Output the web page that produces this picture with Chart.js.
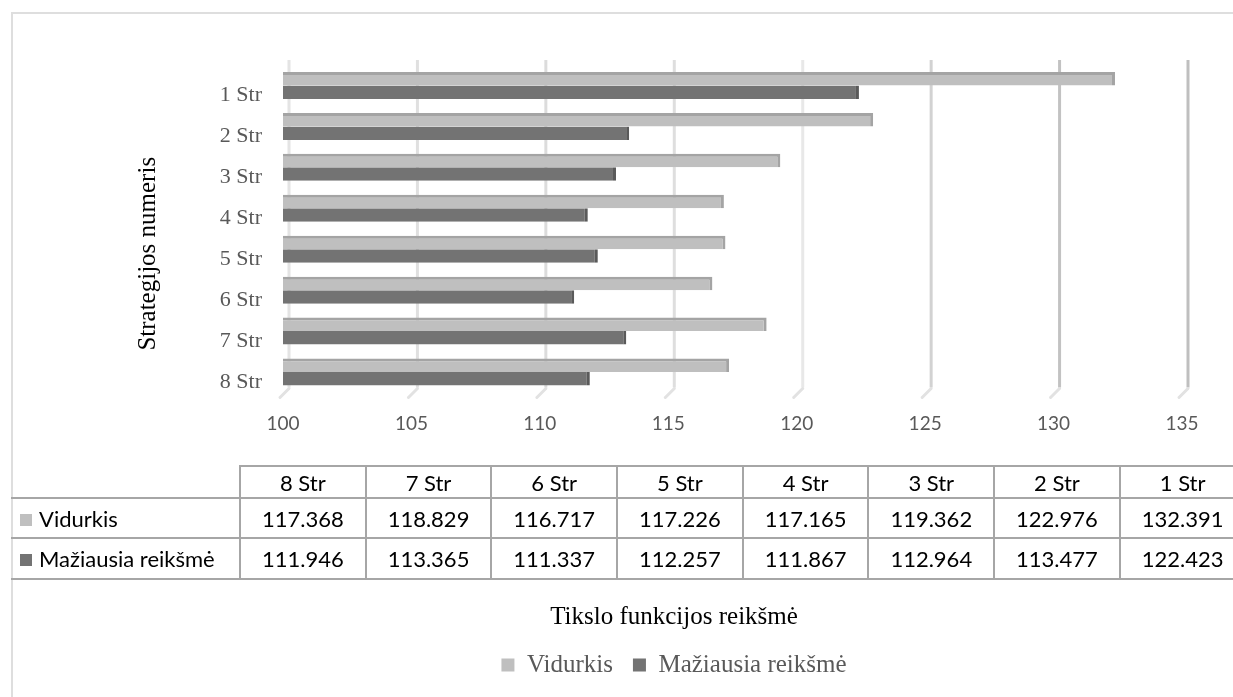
<!DOCTYPE html>
<html>
<head>
<meta charset="utf-8">
<script src="https://cdn.jsdelivr.net/npm/chart.js@4/dist/chart.umd.min.js"></script>
<style>
  html, body { margin: 0; padding: 0; background: #fff; overflow: hidden; }
  #wrap { position: relative; width: 1233px; height: 697px; overflow: hidden; background: #fff; }
  #frame { position: absolute; left: 11px; top: 12px; width: 1400px; height: 900px;
           border-left: 2px solid #dedede; border-top: 2px solid #dedede; }
  #chart { position: absolute; left: 0; top: 0; }
  #dt { position: absolute; left: 11px; top: 465px; border-collapse: collapse; table-layout: fixed;
        width: 1234px; font-family: Lato, "Open Sans", sans-serif; font-size: 22px; color: #000; }
  #dt td { border: 2px solid #a6a6a6; padding: 0; text-align: center; vertical-align: middle;
           white-space: nowrap; overflow: hidden; }
  #dt td.corner { border-top: none; border-left: none; }
  #dt td.lab { border-left: none; text-align: left; padding-left: 9px; }
  #dt .key { display: inline-block; width: 12px; height: 12px; margin-right: 7px; vertical-align: 1px; }
</style>
</head>
<body>
<div id="wrap">
  <div id="frame"></div>
  <canvas id="chart" width="1233" height="697"></canvas>
  <table id="dt"></table>
</div>
<script>
// Strategy labels, top to bottom in the plot
const categories = ['1 Str', '2 Str', '3 Str', '4 Str', '5 Str', '6 Str', '7 Str', '8 Str'];
// Mean objective value per strategy
const vidurkis = [132.391, 122.976, 119.362, 117.165, 117.226, 116.717, 118.829, 117.368];
// Minimum objective value per strategy
const maziausia = [122.423, 113.477, 112.964, 111.867, 112.257, 111.337, 113.365, 111.946];
const seriesNames = ['Vidurkis', 'Mažiausia reikšmė'];
const xTicks = [100, 105, 110, 115, 120, 125, 130, 135];
const xTitle = 'Tikslo funkcijos reikšmė';
const yTitle = 'Strategijos numeris';

const seriesColors = ['#bfbfbf', '#737373'];
const gridShades = ['#e4e4e4', '#e0e0e0', '#dcdcdc', '#dedede', '#e8e8e8', '#d2d2d2', '#c2c2c2', '#bfbfbf'];

// Data table under the plot (columns run 8 Str ... 1 Str)
(function buildTable() {
  const order = categories.map((_, i) => i).reverse();
  const table = document.getElementById('dt');
  let html = '<colgroup><col style="width:229px">' +
    order.map(() => '<col style="width:125.7px">').join('') + '</colgroup>';
  html += '<tr style="height:32px"><td class="corner"></td>' +
    order.map(i => '<td>' + categories[i] + '</td>').join('') + '</tr>';
  const rows = [vidurkis, maziausia];
  const heights = [40, 41];
  rows.forEach((vals, r) => {
    html += '<tr style="height:' + heights[r] + 'px"><td class="lab"><span class="key" style="background:' +
      seriesColors[r] + '"></span>' + seriesNames[r] + '</td>' +
      order.map(i => '<td>' + vals[i].toFixed(3) + '</td>').join('') + '</tr>';
  });
  table.innerHTML = html;
})();

// Back-wall gridlines with their small floor stubs, offset for the depth look
const backWall = {
  id: 'backWall',
  beforeDatasetsDraw(chart) {
    const { ctx, chartArea, scales: { x } } = chart;
    ctx.save();
    x.ticks.forEach((t, i) => {
      const px = x.getPixelForValue(t.value) + 6;
      ctx.strokeStyle = gridShades[i % gridShades.length];
      ctx.lineWidth = 3;
      ctx.lineCap = 'butt';
      ctx.beginPath();
      ctx.moveTo(px, chartArea.top - 5);
      ctx.lineTo(px, chartArea.bottom - 5);
      ctx.stroke();
      ctx.strokeStyle = '#e2e2e2';
      ctx.lineWidth = 3;
      ctx.lineCap = 'round';
      ctx.beginPath();
      ctx.moveTo(px, chartArea.bottom - 4);
      ctx.lineTo(px - 9, chartArea.bottom + 5);
      ctx.stroke();
    });
    ctx.restore();
  }
};

// Rotated value-axis title beside the strategy labels
const yAxisTitle = {
  id: 'yAxisTitle',
  afterDraw(chart) {
    const { ctx, chartArea, scales: { y } } = chart;
    ctx.save();
    ctx.translate(y.left + 15, (chartArea.top + chartArea.bottom) / 2 + 25);
    ctx.rotate(-Math.PI / 2);
    ctx.font = '25px "Liberation Serif"';
    ctx.fillStyle = '#000';
    ctx.textAlign = 'center';
    ctx.textBaseline = 'middle';
    ctx.fillText(yTitle, 0, 0);
    ctx.restore();
  }
};

new Chart(document.getElementById('chart'), {
  type: 'bar',
  data: {
    labels: categories,
    datasets: [
      {
        label: seriesNames[0], data: vidurkis,
        backgroundColor: seriesColors[0], borderColor: '#a4a4a4',
        borderWidth: { top: 3, right: 3, bottom: 0, left: 0 },
        categoryPercentage: 0.66, barPercentage: 1
      },
      {
        label: seriesNames[1], data: maziausia,
        backgroundColor: seriesColors[1], borderColor: '#5a5a5a',
        borderWidth: { top: 0, right: 3, bottom: 0, left: 0 },
        categoryPercentage: 0.66, barPercentage: 1
      }
    ]
  },
  options: {
    indexAxis: 'y',
    responsive: false,
    animation: false,
    layout: { padding: { left: 133, right: 18, top: 65, bottom: 9.5 } },
    scales: {
      x: {
        min: xTicks[0], max: xTicks[xTicks.length - 1],
        grid: { display: false, drawTicks: false },
        border: { display: false },
        ticks: { stepSize: xTicks[1] - xTicks[0], padding: 20, color: '#595959',
                 font: { family: 'Lato', size: 19 } },
        afterFit(s) { s.height = 43; }
      },
      y: {
        grid: { display: false, drawTicks: false },
        border: { display: false },
        ticks: { padding: 21, labelOffset: 10, color: '#595959',
                 font: { family: 'Liberation Serif', size: 22 } },
        afterFit(s) { s.width = 150; }
      },
      y2: {
        type: 'linear', position: 'right',
        grid: { display: false, drawTicks: false },
        border: { display: false },
        ticks: { display: false },
        afterFit(s) { s.width = 33; }
      }
    },
    plugins: {
      tooltip: { enabled: false },
      title: {
        display: true, position: 'bottom', text: xTitle, weight: 100,
        color: '#000', font: { family: 'Liberation Serif', size: 25, weight: 'normal' },
        padding: { top: 167, bottom: 0 }
      },
      legend: {
        position: 'bottom',
        labels: {
          boxWidth: 13, boxHeight: 13, padding: 20, color: '#595959',
          font: { family: 'Liberation Serif', size: 25 },
          generateLabels(chart) {
            const items = Chart.defaults.plugins.legend.labels.generateLabels(chart);
            items.forEach(it => { it.lineWidth = 0; it.strokeStyle = 'rgba(0,0,0,0)'; });
            return items;
          }
        }
      }
    }
  },
  plugins: [backWall, yAxisTitle]
});
</script>
</body>
</html>
